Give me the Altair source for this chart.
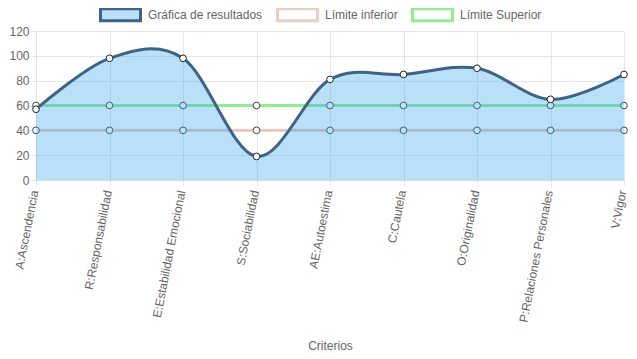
import altair as alt
import pandas as pd

criterios = ["A:Ascendencia", "R:Responsabilidad", "E:Estabilidad Emocional",
             "S:Sociabilidad", "AE:Autoestima", "C:Cautela", "O:Originalidad",
             "P:Relaciones Personales", "V:Vigor"]
resultados = [57, 98, 98, 19, 81, 85, 90, 65, 85]
limite_inferior = [40, 40, 40, 40, 40, 40, 40, 40, 40]
limite_superior = [60, 60, 60, 60, 60, 60, 60, 60, 60]

series = ["Gráfica de resultados", "Límite inferior", "Límite Superior"]
colores = ["#3e6386", "rgba(210,160,140,0.5)", "#90ee90"]
rellenos = ["rgba(54,162,235,0.34)", "#ffffff", "#ffffff"]

rows = []
for nombre, vals in zip(series, [resultados, limite_inferior, limite_superior]):
    for c, v in zip(criterios, vals):
        rows.append({"serie": nombre, "criterio": c, "valor": v})
df = pd.DataFrame(rows)

FONT = "Liberation Sans"
GRID = "#e5e5e5"

x = alt.X("criterio:N", sort=criterios, title="Criterios",
          scale=alt.Scale(type="point", padding=0),
          axis=alt.Axis(labelAngle=-79, labelAlign="right", labelBaseline="middle",
                        labelFont=FONT, labelFontSize=12, labelColor="#666",
                        labelPadding=4, tickSize=6, tickColor=GRID, labelOffset=-2,
                        domainColor="#d9d9d9", gridColor=GRID,
                        titleFont=FONT, titleFontSize=12, titleFontWeight="normal",
                        titleColor="#666", titleY=169, titleBaseline="alphabetic",
                        labelLimit=300))
y = alt.Y("valor:Q", title=None,
          scale=alt.Scale(domain=[0, 120], nice=False),
          axis=alt.Axis(values=[0, 20, 40, 60, 80, 100, 120],
                        labelFont=FONT, labelFontSize=12, labelColor="#666",
                        labelPadding=1, tickSize=6, tickColor=GRID,
                        domainColor=GRID, gridColor=GRID))

leyenda = alt.Legend(
    title=None, orient="none", direction="horizontal",
    legendX=63, legendY=-38, padding=0,
    symbolType="M-1,-0.3H1V0.3H-1Z", symbolSize=1600,
    symbolStrokeWidth=3, labelOffset=6, columnPadding=8,
    labelFont=FONT, labelFontSize=12, labelColor="#666",
    labelLimit=300, symbolOpacity=1)

stroke = alt.Stroke("serie:N", scale=alt.Scale(domain=series, range=colores),
                    legend=leyenda)
fill = alt.Fill("serie:N", scale=alt.Scale(domain=series, range=rellenos),
                legend=leyenda)

base = alt.Chart(df)
limites = base.transform_filter(alt.datum.serie != series[0])
res = base.transform_filter(alt.datum.serie == series[0])

lim_lines = limites.mark_line(strokeWidth=3).encode(x=x, y=y, stroke=stroke,
                                                   detail="serie:N")
lim_points = limites.mark_point(filled=False, fill="#ffffff", fillOpacity=1,
                                stroke="#444", strokeWidth=1, size=45,
                                opacity=1).encode(x=x, y=y, detail="serie:N")
area = res.mark_area(interpolate="cardinal", fillOpacity=1).encode(
    x=x, y=y, fill=fill)
res_line = res.mark_line(interpolate="cardinal", strokeWidth=3).encode(
    x=x, y=y, stroke=stroke)
res_points = res.mark_point(filled=False, fill="#ffffff", fillOpacity=1,
                            stroke="#222", strokeWidth=1, size=45,
                            opacity=1).encode(x=x, y=y)

chart = alt.layer(lim_lines, lim_points, area, res_line, res_points).properties(
    width=588, height=149,
    autosize=alt.AutoSizeParams(type="none"),
    padding={"left": 28, "top": 23, "right": 5, "bottom": 171},
).configure_view(stroke=None).configure_axis(grid=True)

chart.save("out.html", embed_options={"renderer": "svg", "actions": False})
